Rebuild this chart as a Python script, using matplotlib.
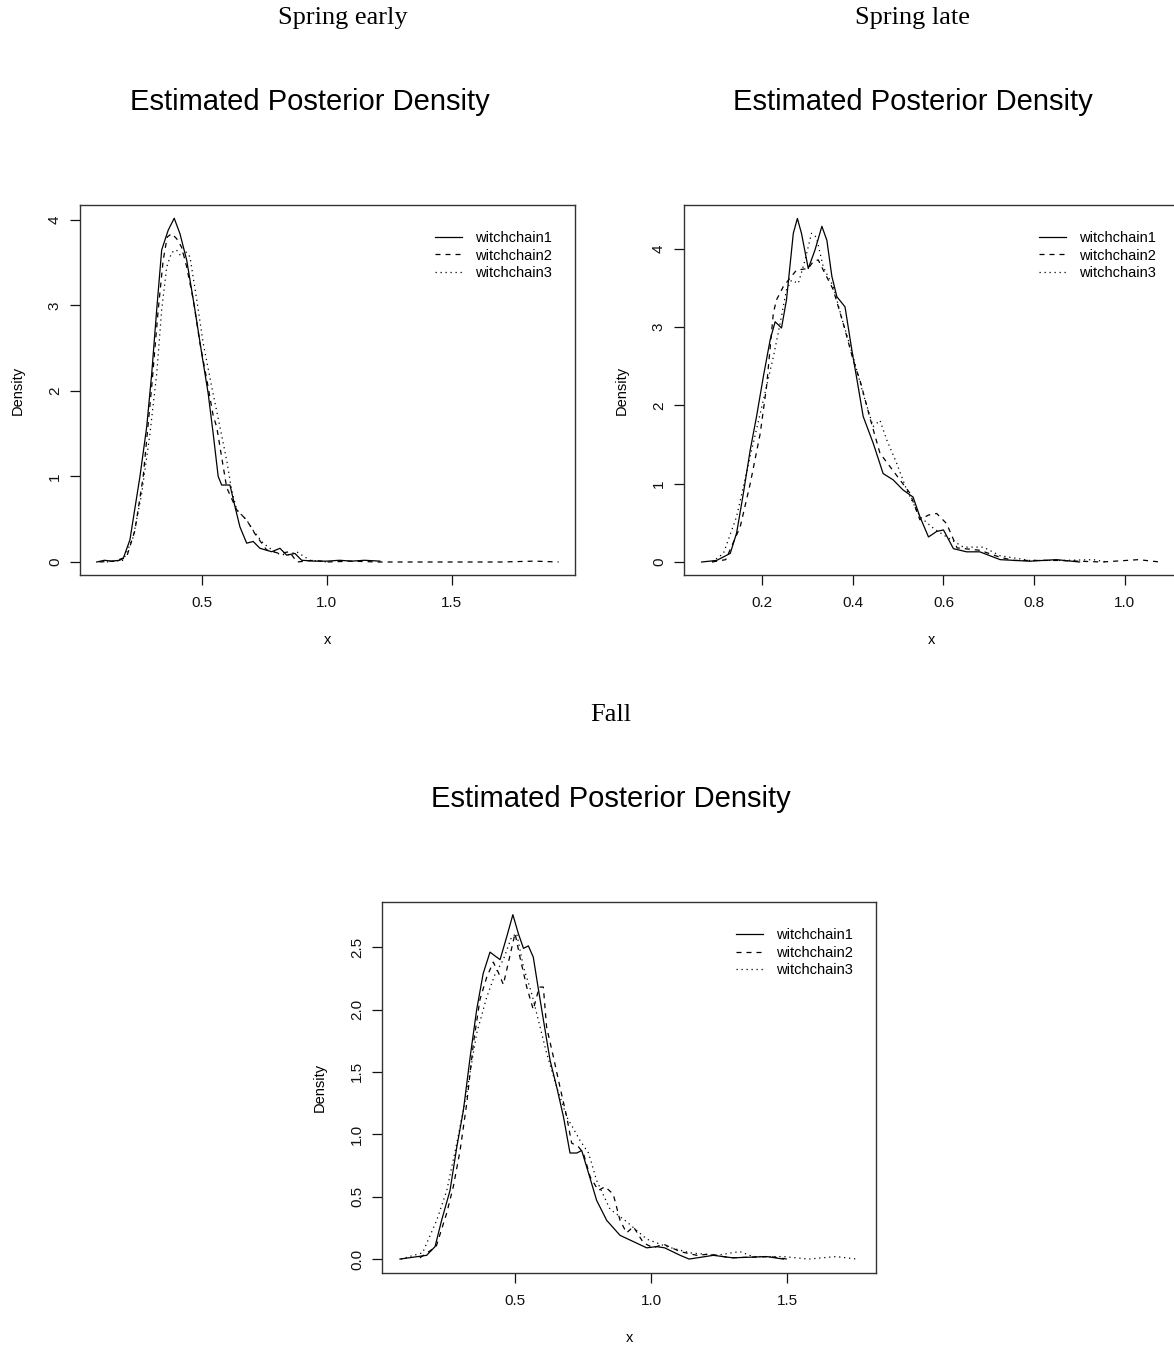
import matplotlib
matplotlib.use("Agg")
import matplotlib.pyplot as plt

# Spring early
se_x1 = [0.079, 0.11, 0.14, 0.17, 0.185, 0.212, 0.252, 0.279, 0.299, 0.319, 0.339, 0.365, 0.389, 0.412,
         0.439, 0.472, 0.499, 0.525, 0.545, 0.565, 0.579, 0.612, 0.632, 0.652, 0.679, 0.705, 0.732, 0.779,
         0.812, 0.839, 0.872, 0.899, 0.95, 1.0, 1.05, 1.1, 1.15, 1.212]
se_y1 = [0.0, 0.02, 0.01, 0.02, 0.04, 0.26, 1.0, 1.58, 2.2, 2.95, 3.65, 3.88, 4.02, 3.84,
         3.53, 2.95, 2.44, 1.97, 1.5, 1.0, 0.90, 0.90, 0.65, 0.41, 0.22, 0.24, 0.16, 0.12,
         0.16, 0.08, 0.10, 0.02, 0.01, 0.01, 0.02, 0.01, 0.02, 0.01]
se_x2 = [0.09, 0.15, 0.199, 0.232, 0.265, 0.299, 0.325, 0.345, 0.361, 0.379, 0.399, 0.419, 0.439, 0.465,
         0.492, 0.519, 0.545, 0.559, 0.599, 0.639, 0.679, 0.712, 0.759, 0.81, 0.85, 0.88, 0.95, 1.0,
         1.1, 1.2, 1.3, 1.5, 1.7, 1.83, 1.927]
se_y2 = [0.0, 0.01, 0.06, 0.37, 1.0, 2.05, 2.95, 3.53, 3.8, 3.84, 3.78, 3.68, 3.45, 3.07,
         2.56, 2.14, 1.71, 1.58, 0.87, 0.61, 0.49, 0.33, 0.14, 0.10, 0.12, 0.0, 0.02, 0.0,
         0.01, 0.0, 0.0, 0.0, 0.0, 0.01, 0.0]
se_x3 = [0.12, 0.185, 0.225, 0.259, 0.292, 0.319, 0.339, 0.359, 0.379, 0.398, 0.415, 0.432, 0.452, 0.479,
         0.505, 0.539, 0.572, 0.599, 0.619, 0.639, 0.679, 0.705, 0.745, 0.799, 0.84, 0.879, 0.932, 1.0]
se_y3 = [0.0, 0.02, 0.29, 0.8, 1.5, 2.2, 2.95, 3.45, 3.62, 3.65, 3.58, 3.64, 3.57, 3.07,
         2.56, 2.05, 1.58, 1.19, 0.84, 0.61, 0.49, 0.37, 0.22, 0.10, 0.08, 0.12, 0.02, 0.0]

# Spring late
sl_x1 = [0.067, 0.10, 0.13, 0.144, 0.159, 0.174, 0.188, 0.203, 0.218, 0.229, 0.243, 0.254, 0.269, 0.278,
         0.287, 0.302, 0.317, 0.332, 0.343, 0.354, 0.365, 0.383, 0.398, 0.412, 0.423, 0.445, 0.467, 0.489,
         0.511, 0.533, 0.548, 0.567, 0.585, 0.600, 0.622, 0.651, 0.680, 0.725, 0.79, 0.849, 0.90]
sl_y1 = [0.0, 0.02, 0.11, 0.37, 0.88, 1.43, 1.86, 2.37, 2.84, 3.07, 2.99, 3.35, 4.20, 4.39,
         4.20, 3.75, 3.99, 4.29, 4.11, 3.65, 3.39, 3.26, 2.71, 2.24, 1.86, 1.52, 1.13, 1.05,
         0.92, 0.83, 0.58, 0.32, 0.39, 0.41, 0.17, 0.13, 0.13, 0.03, 0.01, 0.03, 0.0]
sl_x2 = [0.09, 0.12, 0.152, 0.174, 0.196, 0.21, 0.225, 0.232, 0.247, 0.276, 0.302, 0.313, 0.324, 0.335,
         0.357, 0.379, 0.401, 0.418, 0.437, 0.46, 0.482, 0.504, 0.526, 0.548, 0.567, 0.585, 0.607, 0.63,
         0.68, 0.725, 0.755, 0.85, 0.95, 1.03, 1.077]
sl_y2 = [0.0, 0.03, 0.45, 1.0, 1.64, 2.24, 3.18, 3.35, 3.52, 3.73, 3.75, 3.84, 3.86, 3.73,
         3.48, 3.05, 2.58, 2.28, 1.86, 1.39, 1.22, 1.05, 0.88, 0.54, 0.60, 0.62, 0.49, 0.18,
         0.15, 0.06, 0.02, 0.02, 0.0, 0.03, 0.0]
sl_x3 = [0.09, 0.115, 0.144, 0.174, 0.203, 0.225, 0.240, 0.254, 0.265, 0.280, 0.295, 0.309, 0.32, 0.335,
         0.357, 0.379, 0.386, 0.401, 0.423, 0.445, 0.460, 0.475, 0.497, 0.519, 0.548, 0.578, 0.607, 0.644,
         0.688, 0.725, 0.79, 0.864, 0.93, 0.96]
sl_y3 = [0.0, 0.11, 0.58, 1.35, 2.07, 2.62, 3.05, 3.48, 3.6, 3.56, 3.86, 4.20, 4.15, 3.77,
         3.52, 3.05, 2.92, 2.62, 2.15, 1.73, 1.81, 1.56, 1.26, 0.92, 0.58, 0.43, 0.32, 0.19,
         0.19, 0.08, 0.02, 0.02, 0.03, 0.0]

# Fall
fa_x1 = [0.077, 0.175, 0.206, 0.23, 0.261, 0.286, 0.31, 0.335, 0.359, 0.383, 0.408, 0.426, 0.445, 0.469,
         0.492, 0.512, 0.531, 0.549, 0.567, 0.586, 0.604, 0.629, 0.653, 0.678, 0.702, 0.727, 0.745, 0.77,
         0.80, 0.837, 0.886, 0.935, 0.984, 1.02, 1.05, 1.107, 1.14, 1.229, 1.30, 1.425, 1.486]
fa_y1 = [0.0, 0.03, 0.10, 0.31, 0.55, 0.90, 1.19, 1.62, 2.0, 2.29, 2.46, 2.43, 2.40, 2.58,
         2.76, 2.61, 2.49, 2.51, 2.42, 2.16, 1.92, 1.59, 1.38, 1.14, 0.85, 0.85, 0.87, 0.69,
         0.47, 0.31, 0.19, 0.14, 0.09, 0.10, 0.09, 0.03, 0.0, 0.03, 0.01, 0.02, 0.0]
fa_x2 = [0.15, 0.21, 0.249, 0.273, 0.298, 0.322, 0.347, 0.371, 0.396, 0.42, 0.438, 0.457, 0.48, 0.5,
         0.518, 0.543, 0.567, 0.589, 0.604, 0.616, 0.641, 0.665, 0.69, 0.708, 0.733, 0.751, 0.776, 0.806,
         0.831, 0.861, 0.886, 0.91, 0.935, 0.972, 1.008, 1.045, 1.107, 1.168, 1.217, 1.29, 1.437, 1.5]
fa_y2 = [0.01, 0.10, 0.37, 0.58, 0.87, 1.24, 1.73, 2.08, 2.26, 2.38, 2.30, 2.20, 2.42, 2.61,
         2.42, 2.18, 2.0, 2.18, 2.18, 1.86, 1.62, 1.38, 1.14, 0.93, 0.90, 0.85, 0.66, 0.55,
         0.58, 0.52, 0.31, 0.21, 0.26, 0.13, 0.09, 0.12, 0.06, 0.03, 0.04, 0.01, 0.02, 0.0]
fa_x3 = [0.08, 0.16, 0.212, 0.249, 0.286, 0.322, 0.359, 0.396, 0.426, 0.457, 0.487, 0.506, 0.531, 0.561,
         0.592, 0.616, 0.653, 0.69, 0.739, 0.77, 0.80, 0.849, 0.91, 0.984, 1.057, 1.143, 1.24, 1.326,
         1.375, 1.486, 1.58, 1.68, 1.756]
fa_y3 = [0.0, 0.05, 0.31, 0.55, 0.93, 1.33, 1.81, 2.10, 2.28, 2.40, 2.58, 2.61, 2.34, 2.13,
         1.86, 1.65, 1.38, 1.14, 0.95, 0.85, 0.63, 0.40, 0.30, 0.16, 0.10, 0.05, 0.03, 0.06,
         0.02, 0.02, 0.0, 0.02, 0.0]

chain_names = ["witchchain1", "witchchain2", "witchchain3"]
styles = ["-", (0, (4, 4)), (0, (1, 3))]

panels = [
    dict(name="Spring early", pos=[0.0681, 0.5725, 0.4216, 0.2751], xlim=(0.012, 1.992), ylim=(-0.152, 4.175),
         xticks=[0.5, 1.0, 1.5], yticks=[0, 1, 2, 3, 4], ylab=["0", "1", "2", "3", "4"],
         data=[(se_x1, se_y1), (se_x2, se_y2), (se_x3, se_y3)],
         label_xy=(343 / 1174, 1 - 18 / 1345), title_xy=(310 / 1174, 1 - 102 / 1345)),
    dict(name="Spring late", pos=[0.5826, 0.5725, 0.4212, 0.2751], xlim=(0.028, 1.118), ylim=(-0.166, 4.562),
         xticks=[0.2, 0.4, 0.6, 0.8, 1.0], yticks=[0, 1, 2, 3, 4], ylab=["0", "1", "2", "3", "4"],
         data=[(sl_x1, sl_y1), (sl_x2, sl_y2), (sl_x3, sl_y3)],
         label_xy=(912 / 1174, 1 - 18 / 1345), title_xy=(913 / 1174, 1 - 102 / 1345)),
    dict(name="Fall", pos=[0.3254, 0.0535, 0.4208, 0.2758], xlim=(0.011, 1.827), ylim=(-0.112, 2.861),
         xticks=[0.5, 1.0, 1.5], yticks=[0, 0.5, 1, 1.5, 2, 2.5],
         ylab=["0.0", "0.5", "1.0", "1.5", "2.0", "2.5"],
         data=[(fa_x1, fa_y1), (fa_x2, fa_y2), (fa_x3, fa_y3)],
         label_xy=(611 / 1174, 1 - 715 / 1345), title_xy=(611 / 1174, 1 - 799 / 1345)),
]

sans = "Liberation Sans"
fig = plt.figure(figsize=(11.74, 13.45), dpi=100)

for p in panels:
    ax = fig.add_axes(p["pos"])
    for (xs, ys), ls, nm in zip(p["data"], styles, chain_names):
        ax.plot(xs, ys, color="black", lw=0.9, linestyle=ls, label=nm)
    ax.set_xlim(*p["xlim"])
    ax.set_ylim(*p["ylim"])
    ax.set_xticks(p["xticks"])
    ax.set_xticklabels([f"{t:.1f}" for t in p["xticks"]], family=sans, fontsize=11)
    ax.set_yticks(p["yticks"])
    ax.set_yticklabels(p["ylab"], family=sans, fontsize=11, rotation=90, va="center")
    ax.tick_params(length=7, width=0.9, colors="#111111")
    ax.tick_params(axis="x", pad=8)
    ax.tick_params(axis="y", pad=6)
    for s in ax.spines.values():
        s.set_linewidth(1.0)
        s.set_color("#333333")
    ax.set_xlabel("x", family=sans, fontsize=10.5, labelpad=17)
    ax.set_ylabel("Density", family=sans, fontsize=10.5, labelpad=17)
    ax.legend(loc="upper left", bbox_to_anchor=(0.717, 0.929), frameon=False, borderpad=0, borderaxespad=0,
              handlelength=1.85, handletextpad=0.9, labelspacing=0.23,
              prop={"family": sans, "size": 10.5})
    fig.text(p["label_xy"][0], p["label_xy"][1], p["name"], family="Liberation Serif", fontsize=19,
             ha="center", va="center")
    fig.text(p["title_xy"][0], p["title_xy"][1], "Estimated Posterior Density", family=sans, fontsize=21,
             ha="center", va="center")

fig.savefig("out.png", dpi=100)
